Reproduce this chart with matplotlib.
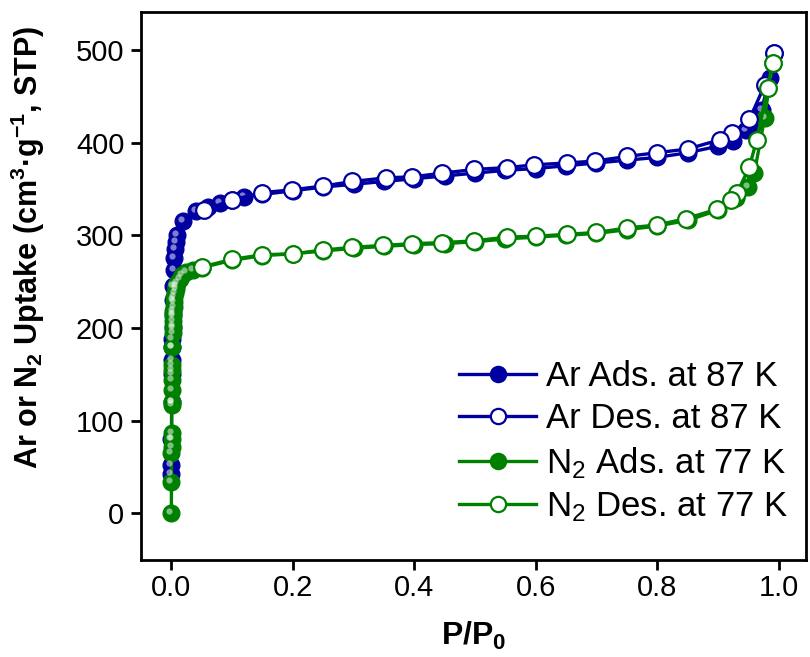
import matplotlib
matplotlib.use("Agg")
import matplotlib.pyplot as plt
import matplotlib.transforms as mtransforms
from matplotlib.lines import Line2D

plt.rcParams['font.family'] = ['Liberation Sans', 'DejaVu Sans']
plt.rcParams['mathtext.fontset'] = 'custom'
plt.rcParams['mathtext.rm'] = 'Liberation Sans'
plt.rcParams['mathtext.bf'] = 'Liberation Sans:bold'
plt.rcParams['mathtext.default'] = 'regular'

# ---- data ----
ar_ads_x = [0.0001, 0.0002, 0.0003, 0.0005, 0.0007, 0.001, 0.0013, 0.0016, 0.002, 0.0025,
            0.003, 0.0035, 0.004, 0.005, 0.006, 0.008, 0.01, 0.02, 0.04, 0.06, 0.08, 0.1,
            0.12, 0.15, 0.2, 0.25, 0.3, 0.35, 0.4, 0.45, 0.5, 0.55, 0.6, 0.65, 0.7, 0.75,
            0.8, 0.85, 0.9, 0.925, 0.947, 0.962, 0.972, 0.985, 0.993]
ar_ads_y = [42, 52, 80, 120, 150, 165, 180, 188, 200, 215, 230, 245, 262, 275, 285, 293, 300,
            315, 326, 331, 335, 338, 341, 344, 348, 352, 355, 358, 361, 364, 367, 370, 372,
            375, 378, 381, 384, 389, 396, 402, 414, 422, 435, 470, 497]

ar_des_x = [0.993, 0.977, 0.952, 0.924, 0.903, 0.850, 0.799, 0.750, 0.697, 0.651, 0.598,
            0.553, 0.499, 0.446, 0.397, 0.354, 0.298, 0.249, 0.198, 0.150, 0.100, 0.054]
ar_des_y = [497, 462, 425, 410, 403, 393, 389, 385, 380, 378, 376, 373, 371, 367, 363, 362,
            358, 353, 349, 346, 338, 327]

n2_ads_x = [0.0001, 0.0002, 0.0003, 0.0004, 0.0005, 0.0006, 0.0007, 0.0008, 0.001, 0.0012,
            0.0014, 0.0016, 0.0018, 0.002, 0.0023, 0.0026, 0.003, 0.0035, 0.004, 0.0045,
            0.005, 0.006, 0.007, 0.008, 0.01, 0.014, 0.018, 0.025, 0.035, 0.05, 0.1, 0.15,
            0.2, 0.25, 0.3, 0.35, 0.4, 0.45, 0.5, 0.55, 0.6, 0.65, 0.7, 0.75, 0.8, 0.85,
            0.9, 0.93, 0.95, 0.96, 0.977, 0.99]
n2_ads_y = [0, 34, 65, 72, 80, 87, 117, 120, 133, 144, 155, 160, 179, 195, 202, 207, 213,
            218, 223, 228, 233, 238, 242, 245, 249, 253, 257, 260, 263, 265, 273, 278,
            280, 283, 286, 288, 290, 291, 293, 296, 298, 300, 302, 306, 310, 316,
            327, 340, 352, 367, 427, 486]

n2_des_x = [0.99, 0.982, 0.964, 0.952, 0.932, 0.922, 0.898, 0.848, 0.799, 0.751, 0.700,
            0.651, 0.601, 0.552, 0.499, 0.446, 0.397, 0.348, 0.298, 0.249, 0.200, 0.150,
            0.100, 0.051]
n2_des_y = [486, 459, 403, 374, 346, 338, 328, 318, 311, 308, 303, 301, 299, 298, 294, 292,
            291, 289, 287, 284, 280, 279, 274, 266]

xticks = [0.0, 0.2, 0.4, 0.6, 0.8, 1.0]
yticks = [0, 100, 200, 300, 400, 500]

blue = '#0000a0'
green = '#008000'

fig = plt.figure(figsize=(8.10, 6.57), dpi=100)
ax = fig.add_axes([0.174, 0.148, 0.821, 0.834])

ms = 12
lw = 2.4
hl_off = mtransforms.ScaledTranslation(-2/100, 2/100, fig.dpi_scale_trans)

def filled(x, y, c, label):
    ax.plot(x, y, '-', color=c, lw=lw, marker='o', ms=ms, mfc=c, mec=c, mew=1, label=label, zorder=3)
    ax.plot(x, y, ls='none', marker='o', ms=4.5, mfc='white', mec='none', alpha=0.5,
            transform=ax.transData + hl_off, zorder=3.5)

def hollow(x, y, c, label):
    ax.plot(x, y, '-', color=c, lw=lw, marker='o', ms=ms, mfc='white', mec=c, mew=1.6, label=label, zorder=4)

filled(ar_ads_x, ar_ads_y, blue, 'Ar Ads. at 87 K')
hollow(ar_des_x, ar_des_y, blue, 'Ar Des. at 87 K')
filled(n2_ads_x, n2_ads_y, green, 'N$_2$ Ads. at 77 K')
hollow(n2_des_x, n2_des_y, green, 'N$_2$ Des. at 77 K')

ax.set_xlim(-0.05, 1.045)
ax.set_ylim(-50, 541)
ax.set_xticks(xticks)
ax.set_xticklabels([f'{v:.1f}' for v in xticks])
ax.set_yticks(yticks)
ax.tick_params(axis='both', direction='out', length=7, width=2, labelsize=21)
ax.tick_params(axis='x', pad=3)
ax.tick_params(axis='y', pad=5)
ax.tick_params(top=False, right=False)
for s in ax.spines.values():
    s.set_linewidth(2)

ax.set_xlabel('P/P$_0$', fontsize=23, fontweight='bold')
ax.xaxis.set_label_coords(0.5, -0.11)
ax.set_ylabel('Ar or N$_2$ Uptake (cm$^3$·g$^{-1}$, STP)', fontsize=22, fontweight='bold')
ax.yaxis.set_label_coords(-0.142, 0.57)

handles = []
for c, fc, lab in [(blue, blue, 'Ar Ads. at 87 K'), (blue, 'white', 'Ar Des. at 87 K'),
                   (green, green, 'N$_2$ Ads. at 77 K'), (green, 'white', 'N$_2$ Des. at 77 K')]:
    handles.append(Line2D([], [], color=c, lw=lw, marker='o', ms=11, mfc=fc, mec=c, mew=1.6, label=lab))
leg = ax.legend(handles=handles, loc='lower right', frameon=False, fontsize=25,
                handlelength=2.2, handletextpad=0.3, labelspacing=0.27,
                bbox_to_anchor=(1.021, 0.009))

fig.savefig('out.png', dpi=100)
